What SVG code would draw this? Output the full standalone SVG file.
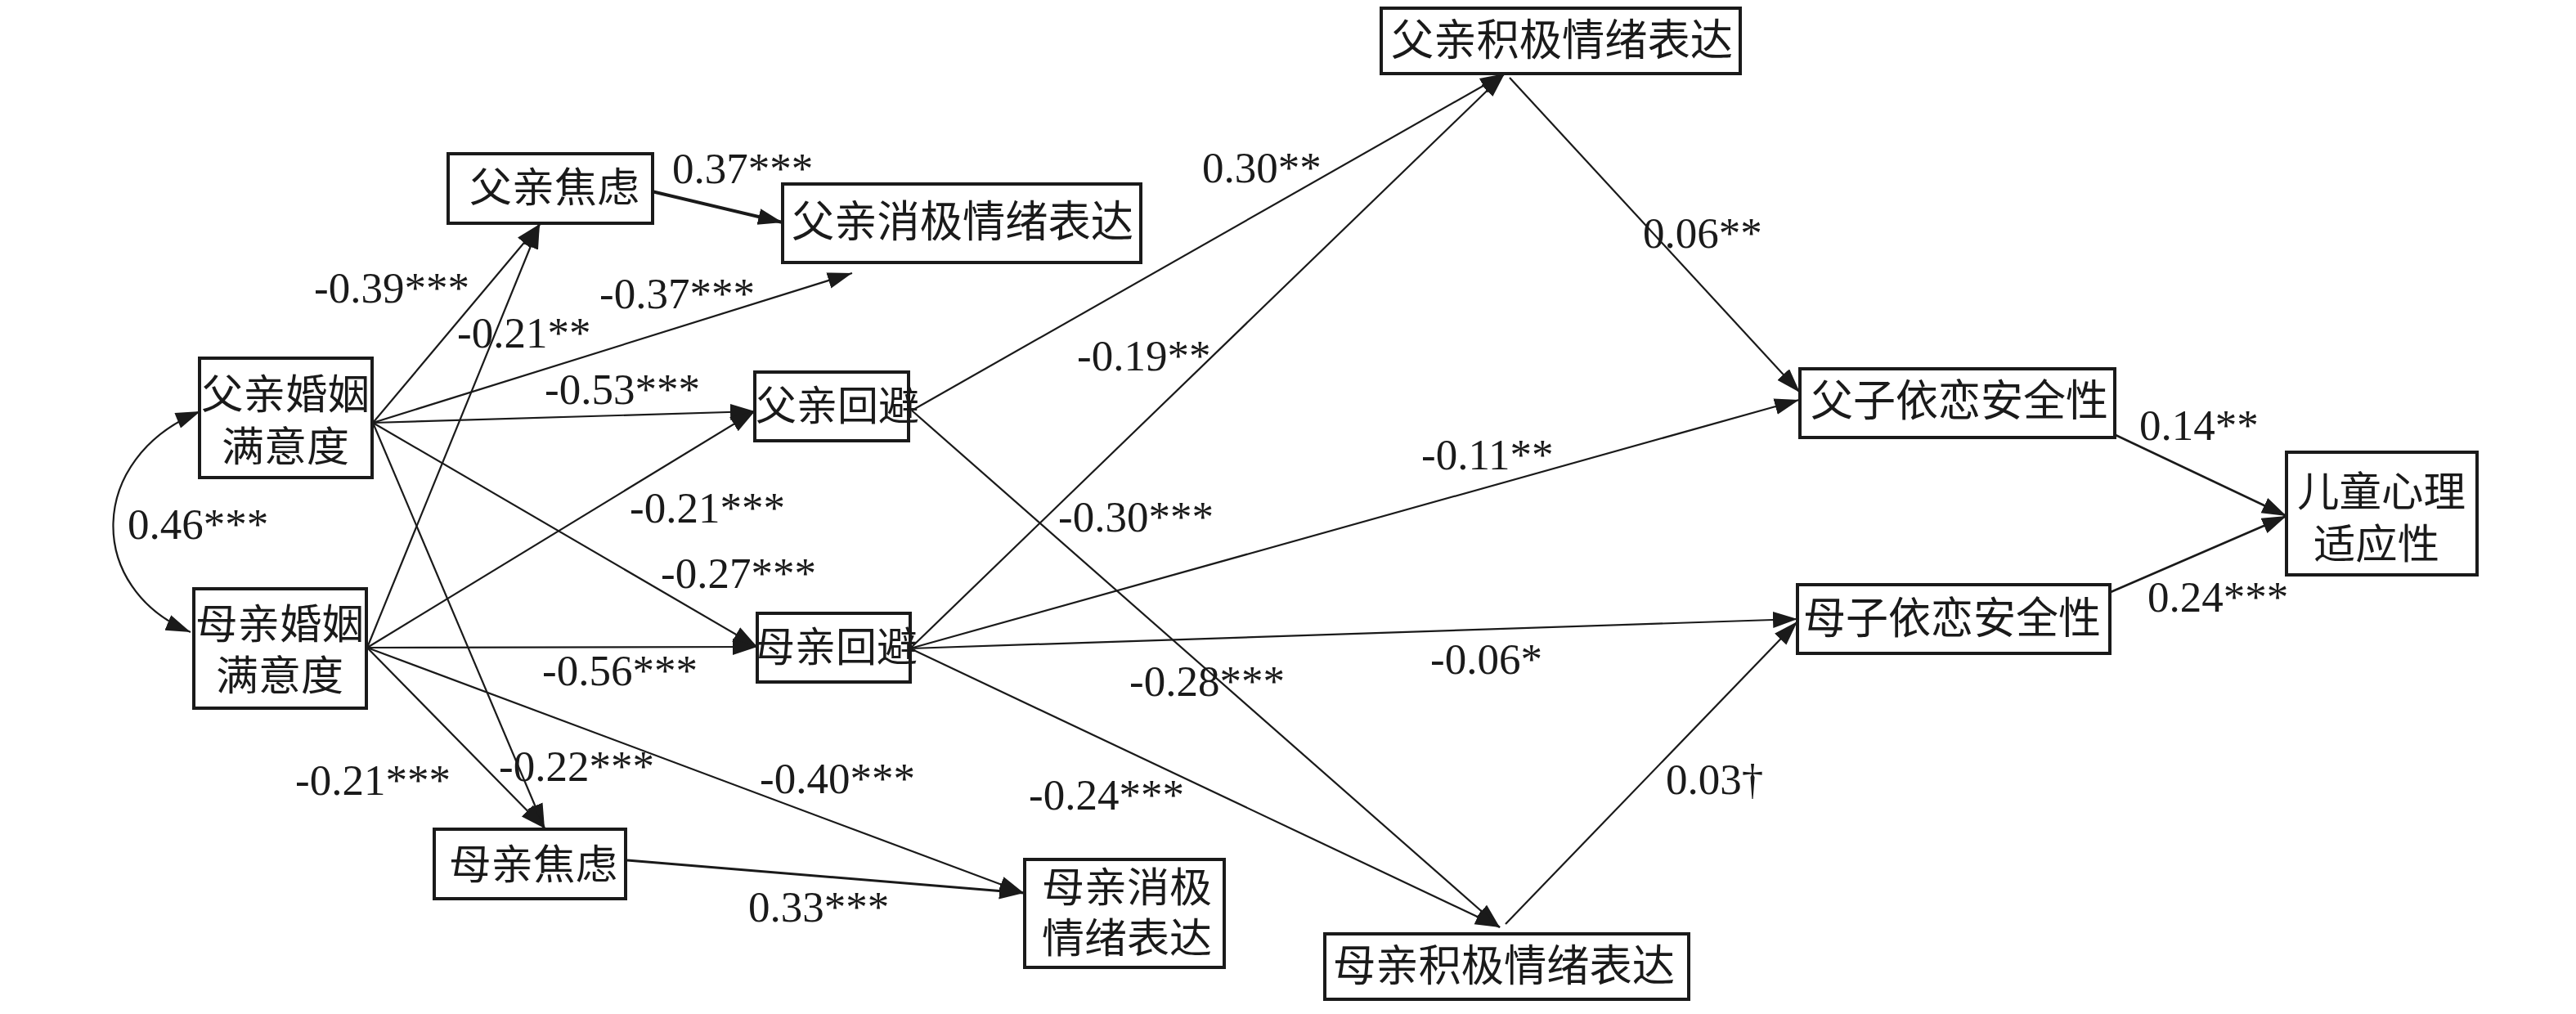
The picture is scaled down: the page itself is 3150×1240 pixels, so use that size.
<svg xmlns="http://www.w3.org/2000/svg" width="3150" height="1240" viewBox="0 0 3150 1240">
<style>
.box{fill:#fff;stroke:#1a1a1a;stroke-width:4}
.cn{font-family:"Liberation Serif","Noto Sans CJK SC",serif;fill:#1a1a1a;text-anchor:middle;dominant-baseline:central}
.s{font-size:50px}
.l{font-size:53px}
.lab{font-family:"Liberation Serif",serif;font-size:53px;fill:#1a1a1a}
.e{fill:none;stroke:#1a1a1a;stroke-width:2.2;marker-end:url(#ah)}
.e2{fill:none;stroke:#1a1a1a;stroke-width:2.2;marker-end:url(#ah);marker-start:url(#ahs)}
</style>
<defs>
<marker id="ah" markerUnits="userSpaceOnUse" markerWidth="32" markerHeight="22" refX="30" refY="10" orient="auto"><path d="M0,0 L30,10 L0,20 z" fill="#1a1a1a"/></marker>
<marker id="ahs" markerUnits="userSpaceOnUse" markerWidth="32" markerHeight="22" refX="0" refY="10" orient="auto"><path d="M30,0 L0,10 L30,20 z" fill="#1a1a1a"/></marker>
</defs>
<rect width="3150" height="1240" fill="#fff"/>
<g id="connectors">
<path class="e2" d="M245,503 C105,560 105,720 233,773"/>
<line class="e" x1="797" y1="234" x2="957" y2="272" style="stroke-width:4"/>
<line class="e" x1="456" y1="517" x2="660" y2="274"/>
<line class="e" x1="456" y1="517" x2="1042" y2="334"/>
<line class="e" x1="456" y1="517" x2="923" y2="503"/>
<line class="e" x1="456" y1="517" x2="926" y2="791"/>
<line class="e" x1="456" y1="517" x2="666" y2="1013"/>
<line class="e" x1="449" y1="792" x2="660" y2="274"/>
<line class="e" x1="449" y1="792" x2="923" y2="503"/>
<line class="e" x1="449" y1="792" x2="926" y2="791"/>
<line class="e" x1="449" y1="792" x2="666" y2="1013"/>
<line class="e" x1="449" y1="792" x2="1252" y2="1092"/>
<line class="e" x1="767" y1="1052" x2="1252" y2="1092" style="stroke-width:3"/>
<line class="e" x1="1115" y1="502" x2="1840" y2="90"/>
<line class="e" x1="1115" y1="502" x2="1834" y2="1134"/>
<line class="e" x1="1113" y1="793" x2="1840" y2="90"/>
<line class="e" x1="1113" y1="793" x2="2200" y2="489"/>
<line class="e" x1="1113" y1="793" x2="2198" y2="757"/>
<line class="e" x1="1113" y1="793" x2="1834" y2="1134"/>
<line class="e" x1="1846" y1="95" x2="2201" y2="480"/>
<line class="e" x1="1841" y1="1130" x2="2198" y2="760"/>
<line class="e" x1="2587" y1="532" x2="2796" y2="631" style="stroke-width:2.6"/>
<line class="e" x1="2581" y1="724" x2="2796" y2="631" style="stroke-width:2.6"/>
</g>
<g id="n-fpos"><rect class="box" x="1689" y="10" width="439" height="80"/><text class="cn l" x="1910" y="50" textLength="418" lengthAdjust="spacingAndGlyphs">父亲积极情绪表达</text></g>
<g id="n-fanx"><rect class="box" x="548" y="188" width="250" height="85"/><text class="cn s" x="678" y="230" textLength="208" lengthAdjust="spacingAndGlyphs">父亲焦虑</text></g>
<g id="n-fneg"><rect class="box" x="957" y="225" width="438" height="96"/><text class="cn l" x="1177" y="272" textLength="418" lengthAdjust="spacingAndGlyphs">父亲消极情绪表达</text></g>
<g id="n-fmar"><rect class="box" x="244" y="438" width="211" height="146"/><text class="cn s" x="349" y="483" textLength="206" lengthAdjust="spacingAndGlyphs">父亲婚姻</text><text class="cn s" x="349" y="547" textLength="156" lengthAdjust="spacingAndGlyphs">满意度</text></g>
<g id="n-favo"><rect class="box" x="923" y="455" width="188" height="84"/><text class="cn s" x="1024" y="497" textLength="200" lengthAdjust="spacingAndGlyphs">父亲回避</text></g>
<g id="n-mmar"><rect class="box" x="237" y="720" width="211" height="146"/><text class="cn s" x="342" y="764" textLength="206" lengthAdjust="spacingAndGlyphs">母亲婚姻</text><text class="cn s" x="342" y="827" textLength="156" lengthAdjust="spacingAndGlyphs">满意度</text></g>
<g id="n-mavo"><rect class="box" x="926" y="750" width="187" height="84"/><text class="cn s" x="1022" y="792" textLength="200" lengthAdjust="spacingAndGlyphs">母亲回避</text></g>
<g id="n-manx"><rect class="box" x="531" y="1014" width="234" height="85"/><text class="cn s" x="652" y="1058" textLength="206" lengthAdjust="spacingAndGlyphs">母亲焦虑</text></g>
<g id="n-mneg"><rect class="box" x="1253" y="1051" width="244" height="132"/><text class="cn s" x="1378" y="1086" textLength="208" lengthAdjust="spacingAndGlyphs">母亲消极</text><text class="cn s" x="1378" y="1148" textLength="208" lengthAdjust="spacingAndGlyphs">情绪表达</text></g>
<g id="n-mpos"><rect class="box" x="1620" y="1142" width="445" height="80"/><text class="cn l" x="1839" y="1182" textLength="418" lengthAdjust="spacingAndGlyphs">母亲积极情绪表达</text></g>
<g id="n-fatt"><rect class="box" x="2201" y="451" width="385" height="84"/><text class="cn l" x="2396" y="491" textLength="364" lengthAdjust="spacingAndGlyphs">父子依恋安全性</text></g>
<g id="n-matt"><rect class="box" x="2198" y="715" width="382" height="84"/><text class="cn l" x="2387" y="757" textLength="364" lengthAdjust="spacingAndGlyphs">母子依恋安全性</text></g>
<g id="n-child"><rect class="box" x="2796" y="553" width="233" height="150"/><text class="cn s" x="2912" y="602" textLength="206" lengthAdjust="spacingAndGlyphs">儿童心理</text><text class="cn s" x="2906" y="666" textLength="154" lengthAdjust="spacingAndGlyphs">适应性</text></g>
<g id="labels">
<text class="lab" x="822" y="224">0.37***</text>
<text class="lab" x="384" y="370">-0.39***</text>
<text class="lab" x="733" y="377">-0.37***</text>
<text class="lab" x="559" y="425">-0.21**</text>
<text class="lab" x="666" y="494">-0.53***</text>
<text class="lab" x="156" y="659">0.46***</text>
<text class="lab" x="770" y="639">-0.21***</text>
<text class="lab" x="808" y="719">-0.27***</text>
<text class="lab" x="663" y="838">-0.56***</text>
<text class="lab" x="361" y="972">-0.21***</text>
<text class="lab" x="610" y="955">-0.22***</text>
<text class="lab" x="929" y="970">-0.40***</text>
<text class="lab" x="915" y="1127">0.33***</text>
<text class="lab" x="1470" y="223">0.30**</text>
<text class="lab" x="1317" y="453">-0.19**</text>
<text class="lab" x="1738" y="574">-0.11**</text>
<text class="lab" x="1294" y="650">-0.30***</text>
<text class="lab" x="2009" y="303">0.06**</text>
<text class="lab" x="1381" y="851">-0.28***</text>
<text class="lab" x="1749" y="824">-0.06*</text>
<text class="lab" x="1258" y="990">-0.24***</text>
<text class="lab" x="2037" y="971">0.03†</text>
<text class="lab" x="2616" y="538">0.14**</text>
<text class="lab" x="2626" y="748">0.24***</text>
</g>
</svg>
